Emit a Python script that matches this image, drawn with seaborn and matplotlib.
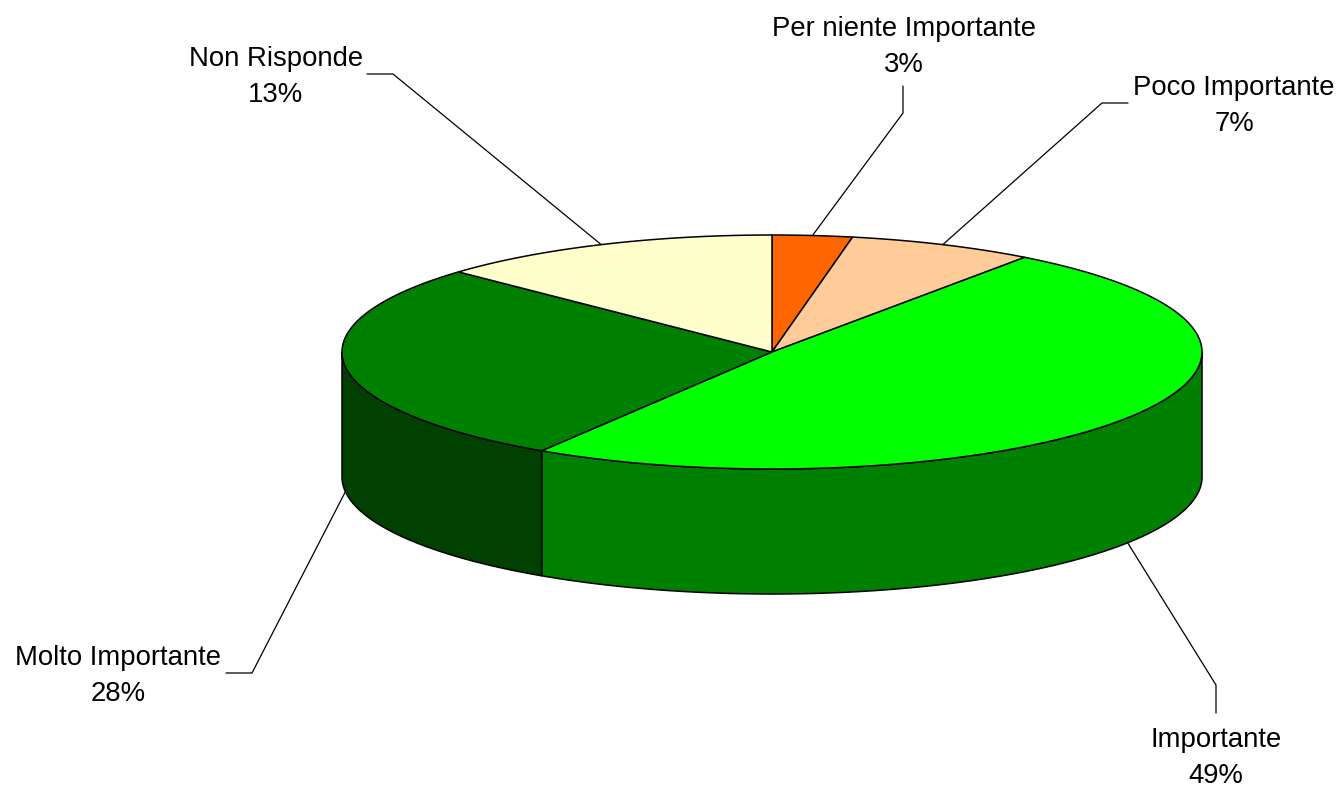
import numpy as np
import matplotlib
matplotlib.use("Agg")
import matplotlib.pyplot as plt
import seaborn as sns
from matplotlib.patches import Polygon

# Survey answers, clockwise from 12 o'clock
categories = ["Per niente Importante", "Poco Importante", "Importante",
              "Molto Importante", "Non Risponde"]
shares = [3, 7, 49, 28, 13]
pct_labels = ["3%", "7%", "49%", "28%", "13%"]
top_colors = ["#FF6600", "#FFCC99", "#00FF00", "#008000", "#FFFFCC"]
side_colors = ["#993D00", "#997A5C", "#008000", "#004000", "#99997A"]

sns.set_theme(style="white")
plt.rcParams["font.family"] = ["Liberation Sans", "DejaVu Sans"]

# Pie geometry in pixel-like axis units
CX, CY, RX, RY, DEPTH = 772, 352, 430, 117, 125

# Label baselines (first line) and leader-line elbows
label_pos = [(904, 36), (1234, 95), (1216, 747), (118, 665), (276, 66)]
elbows = [[(903, 86), (903, 113)],
          [(1128, 103), (1102, 103)],
          [(1216, 713), (1216, 685)],
          [(226, 673), (252, 673)],
          [(367, 74), (393, 74)]]

fig = plt.figure(figsize=(13.4, 7.89), dpi=100)
ax = fig.add_axes([0, 0, 1, 1])
ax.set_xlim(0, 1340)
ax.set_ylim(789, 0)
ax.axis("off")


def arc(a0, a1, dy=0.0, n=240):
    t = np.radians(np.linspace(a0, a1, n))
    return np.column_stack([CX + RX * np.sin(t), CY + dy - RY * np.cos(t)])


total = float(sum(shares))
bounds = np.concatenate([[0.0], np.cumsum(shares) / total * 360.0])

# Visible side walls (front half of the disc)
for i in range(len(shares)):
    s0, s1 = max(bounds[i], 90.0), min(bounds[i + 1], 270.0)
    if s1 > s0:
        upper = arc(s0, s1)
        lower = arc(s1, s0, dy=DEPTH)
        ax.add_patch(Polygon(np.vstack([upper, lower]), closed=True,
                             facecolor=side_colors[i], edgecolor="black",
                             linewidth=1.1, zorder=1))

# Top faces
for i in range(len(shares)):
    pts = np.vstack([[CX, CY], arc(bounds[i], bounds[i + 1])])
    ax.add_patch(Polygon(pts, closed=True, facecolor=top_colors[i],
                         edgecolor="black", linewidth=1.1, zorder=2))

# Labels with leader lines
for i in range(len(shares)):
    mid = (bounds[i] + bounds[i + 1]) / 2.0
    tx = CX + RX * np.sin(np.radians(mid))
    ty = CY - RY * np.cos(np.radians(mid))
    if 90.0 < mid < 270.0:
        ty += DEPTH
    (x0, y0), (x1, y1) = elbows[i]
    ax.plot([x0, x1, tx], [y0, y1, ty], color="black", linewidth=0.9,
            zorder=3, solid_joinstyle="miter")
    lx, ly = label_pos[i]
    ax.text(lx, ly, categories[i], ha="center", va="baseline",
            fontsize=19.8, color="black")
    ax.text(lx, ly + 36, pct_labels[i], ha="center", va="baseline",
            fontsize=19.8, color="black")

fig.savefig("out.png", dpi=100, facecolor="white")
